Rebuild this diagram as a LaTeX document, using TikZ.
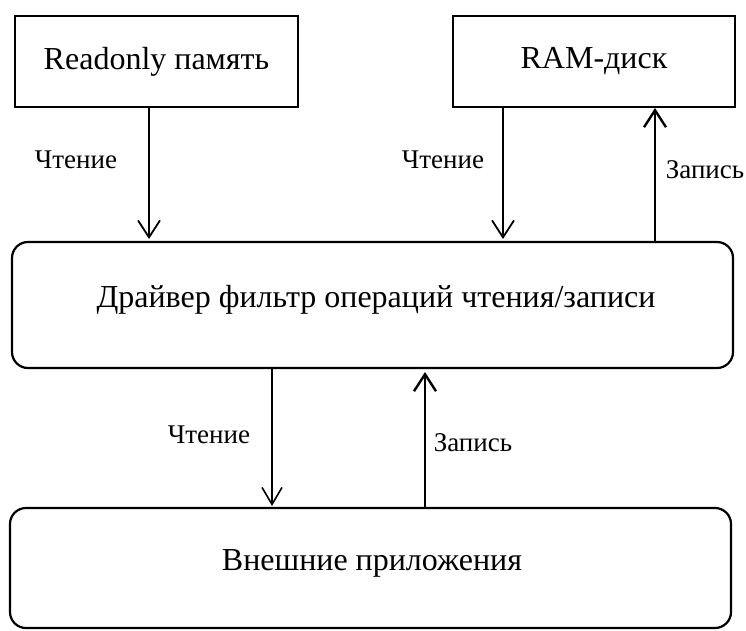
\documentclass[tikz,border=0pt]{standalone}
\usepackage{fontspec}
\setmainfont{Liberation Serif}
\usetikzlibrary{arrows.meta}
\begin{document}
\begin{tikzpicture}[x=1pt,y=-1pt,
  boxstyle/.style={draw,line width=2.2pt,inner sep=0pt,font=\fontsize{32}{36}\selectfont},
  roundbox/.style={boxstyle,rounded corners=16pt},
  txt/.style={font=\fontsize{32}{36}\selectfont,inner sep=0pt},
  arr/.style={line width=1.8pt,-{Straight Barb[length=17pt,width=22pt,line width=1.8pt]}},
  arrthick/.style={line width=2.6pt,-{Straight Barb[length=17pt,width=22pt,line width=2.4pt]}},
  arrthin/.style={line width=1.4pt,-{Straight Barb[length=17pt,width=20pt,line width=1.6pt]}},
  lbl/.style={font=\fontsize{27}{30}\selectfont,inner sep=0pt}]
\useasboundingbox (0,0) rectangle (746,630);
\node[boxstyle,minimum width=283pt,minimum height=91pt] (ro) at (156.5,61.5) {Readonly память};
\node[boxstyle,minimum width=282pt,minimum height=91pt] (ram) at (594,61.5) {RAM-диск};
\node[roundbox,minimum width=721pt,minimum height=126pt] (drv) at (372.5,305) {};
\node[txt] (drvt) at (376,300) {Драйвер фильтр операций чтения/записи};
\node[roundbox,minimum width=721pt,minimum height=120pt] (app) at (370.5,568) {};
\node[txt] (appt) at (372,563) {Внешние приложения};
\coordinate (a1s) at (149,107); \coordinate (a1e) at (149,239);
\coordinate (a2s) at (503,107); \coordinate (a2e) at (503,239);
\coordinate (a3s) at (655,241); \coordinate (a3e) at (655,108);
\coordinate (a4s) at (272,369); \coordinate (a4e) at (272,506);
\coordinate (a5s) at (425,507); \coordinate (a5e) at (425,372);
\draw[arr] (a1s) -- (a1e);
\draw[arr] (a2s) -- (a2e);
\draw[arrthick] (a3s) -- (a3e);
\draw[arrthin] (a4s) -- (a4e);
\draw[arrthick] (a5s) -- (a5e);
\node[lbl] (l1) at (76,160) {Чтение};
\node[lbl] (l2) at (443,160) {Чтение};
\node[lbl] (l3) at (705,170) {Запись};
\node[lbl] (l4) at (209,435) {Чтение};
\node[lbl] (l5) at (473,443) {Запись};
\end{tikzpicture}
\end{document}
